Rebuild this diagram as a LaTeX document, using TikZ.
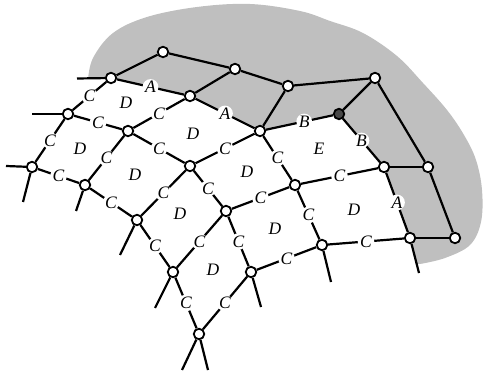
\documentclass[tikz,border=0pt]{standalone}
\usepackage{fontspec}
\setmainfont{Liberation Serif}
\begin{document}
\begin{tikzpicture}[x=1pt,y=-1pt,
  v/.style={circle,draw,fill=white,line width=1.8pt,inner sep=0pt,minimum size=10.5pt},
  vd/.style={v,fill=black!72},
  lab/.style={circle,fill=white,inner sep=0pt,font=\fontsize{17.5}{17.5}\selectfont\itshape},
  face/.style={font=\fontsize{17.5}{17.5}\selectfont\itshape},
  e/.style={line width=2.2pt}]
\useasboundingbox (0,0) rectangle (485,374);
% gray blob
\fill[black!25] plot[smooth,tension=0.6] coordinates {(88,80) (93,58) (113,33) (147,17) (197,7) (250,4) (300,11) (330,21) (363,33) (397,56) (423,83) (447,110) (464,135) (476,160) (482,190) (481,222) (470,245) (445,258) (420,264)} -- (300,264) -- (88,100) -- cycle;
% white patch
\fill[white] (0,78.5) -- (111,78) -- (190,96) -- (260,131) -- (339,114) -- (384,167) -- (410,238) -- (419,273) -- (419,374) -- (0,374) -- cycle;
% vertices
\node[v] (a) at (111,78) {};
\node[v] (b) at (163,52) {};
\node[v] (c) at (235,69) {};
\node[v] (d) at (288,86) {};
\node[v] (e) at (375,78) {};
\node[vd] (f) at (339,114) {};
\node[v] (g) at (190,96) {};
\node[v] (h) at (260,131) {};
\node[v] (i) at (384,167) {};
\node[v] (j) at (428,167) {};
\node[v] (k) at (410,238) {};
\node[v] (l) at (455,238) {};
\node[v] (m) at (68,114) {};
\node[v] (n) at (128,131) {};
\node[v] (o) at (32,167) {};
\node[v] (p) at (85,185) {};
\node[v] (q) at (190,166) {};
\node[v] (r) at (137,220) {};
\node[v] (s) at (226,211) {};
\node[v] (t) at (173,272) {};
\node[v] (u) at (199,334) {};
\node[v] (w) at (295,185) {};
\node[v] (x) at (251,272) {};
\node[v] (y) at (322,245) {};
% stub ends
\coordinate (sa) at (77,78.5);
\coordinate (sm) at (32,114);
\coordinate (so1) at (6,166);
\coordinate (so2) at (23,202);
\coordinate (sp) at (76,211);
\coordinate (sr) at (120,255);
\coordinate (st) at (155,308);
\coordinate (su1) at (182,370);
\coordinate (su2) at (208,370);
\coordinate (sx) at (261,307);
\coordinate (sy) at (331,282);
\coordinate (sk) at (419,273);
% gray-region edges
\draw[e] (a) -- (b);
\draw[e] (b) -- (c);
\draw[e] (c) -- (d);
\draw[e] (d) -- (e);
\draw[e] (c) -- (g);
\draw[e] (d) -- (h);
\draw[e] (e) -- (f);
\draw[e] (e) -- (j);
\draw[e] (j) -- (i);
\draw[e] (j) -- (l);
\draw[e] (l) -- (k);
% boundary edges
\draw[e] (a) -- node[lab]{A} (g);
\draw[e] (g) -- node[lab]{A} (h);
\draw[e] (h) -- node[lab,pos=0.57]{B} (f);
\draw[e] (f) -- node[lab]{B} (i);
\draw[e] (i) -- node[lab]{A} (k);
% grid edges
\draw[e] (a) -- node[lab]{C} (m);
\draw[e] (g) -- node[lab]{C} (n);
\draw[e] (h) -- node[lab]{C} (q);
\draw[e] (h) -- node[lab]{C} (w);
\draw[e] (i) -- node[lab]{C} (w);
\draw[e] (m) -- node[lab]{C} (n);
\draw[e] (n) -- node[lab]{C} (q);
\draw[e] (m) -- node[lab]{C} (o);
\draw[e] (n) -- node[lab]{C} (p);
\draw[e] (q) -- node[lab]{C} (r);
\draw[e] (q) -- node[lab]{C} (s);
\draw[e] (w) -- node[lab]{C} (s);
\draw[e] (w) -- node[lab]{C} (y);
\draw[e] (k) -- node[lab]{C} (y);
\draw[e] (o) -- node[lab]{C} (p);
\draw[e] (p) -- node[lab]{C} (r);
\draw[e] (r) -- node[lab]{C} (t);
\draw[e] (s) -- node[lab]{C} (t);
\draw[e] (s) -- node[lab]{C} (x);
\draw[e] (y) -- node[lab]{C} (x);
\draw[e] (t) -- node[lab]{C} (u);
\draw[e] (x) -- node[lab]{C} (u);
% stubs
\draw[e] (a) -- (sa);
\draw[e] (m) -- (sm);
\draw[e] (o) -- (so1);
\draw[e] (o) -- (so2);
\draw[e] (p) -- (sp);
\draw[e] (r) -- (sr);
\draw[e] (t) -- (st);
\draw[e] (u) -- (su1);
\draw[e] (u) -- (su2);
\draw[e] (x) -- (sx);
\draw[e] (y) -- (sy);
\draw[e] (k) -- (sk);
% face labels
\node[face] (f1) at (126,103) {D};
\node[face] (f2) at (80,149) {D};
\node[face] (f3) at (193,134) {D};
\node[face] (f4) at (135,175) {D};
\node[face] (f5) at (247,172) {D};
\node[face] (f6) at (319,149) {E};
\node[face] (f7) at (180,214) {D};
\node[face] (f8) at (275,229) {D};
\node[face] (f9) at (354,210) {D};
\node[face] (f10) at (213,270) {D};
\end{tikzpicture}
\end{document}
